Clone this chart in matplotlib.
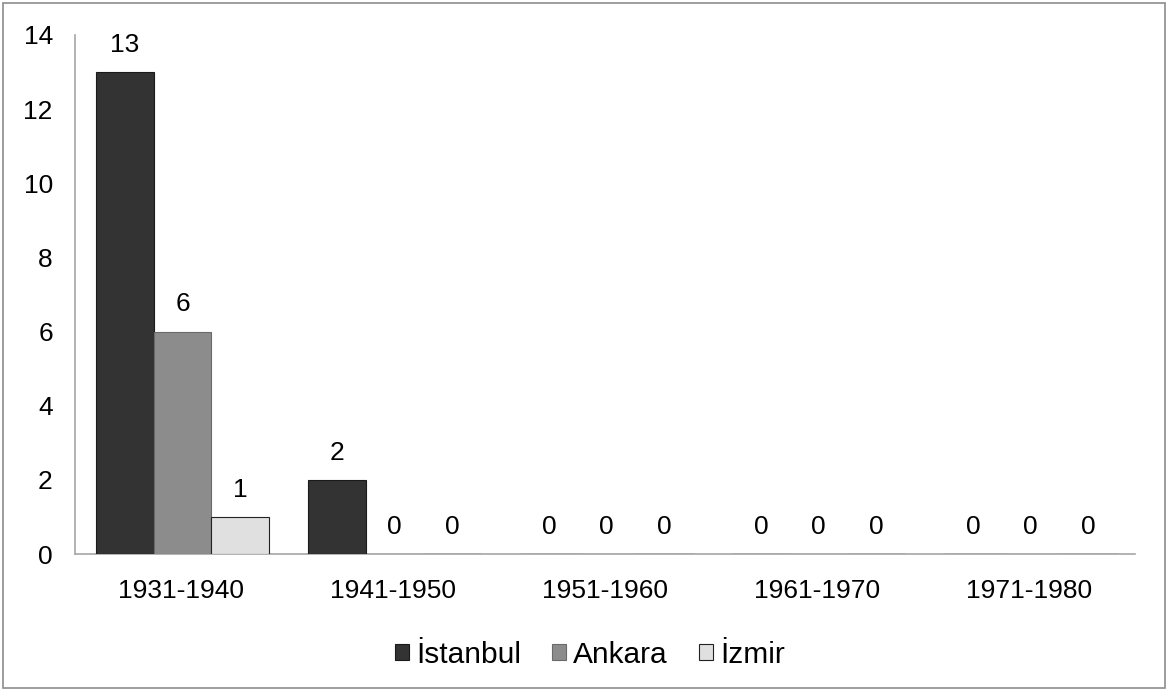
import matplotlib
matplotlib.use("Agg")
import matplotlib.pyplot as plt
import numpy as np
from matplotlib.patches import Rectangle

categories = ["1931-1940", "1941-1950", "1951-1960", "1961-1970", "1971-1980"]
series_names = ["İstanbul", "Ankara", "İzmir"]
istanbul = [13, 2, 0, 0, 0]
ankara = [6, 0, 0, 0, 0]
izmir = [1, 0, 0, 0, 0]
yticks = [0, 2, 4, 6, 8, 10, 12, 14]

plt.rcParams['font.family'] = ['Liberation Sans', 'DejaVu Sans']

W, H = 1172, 697
fig = plt.figure(figsize=(W / 100, H / 100), dpi=100)
ax = fig.add_axes([75 / W, 1 - 554 / H, (1135 - 75) / W, (554 - 35) / H])

colors = ["#333333", "#8c8c8c", "#e0e0e0"]
edges = ["#1a1a1a", "#6a6a6a", "#222222"]
x = np.arange(len(categories))
bw = 0.272
data = [istanbul, ankara, izmir]
for i, (vals, name) in enumerate(zip(data, series_names)):
    pos = x + 0.007 + (i - 1) * bw
    ax.bar(pos, vals, width=bw, color=colors[i], edgecolor=edges[i],
           linewidth=0.8, label=name, zorder=3)
    for xp, v in zip(pos, vals):
        ax.annotate(str(v), (xp, v), xytext=(0, 19.5), textcoords="offset points",
                    ha="center", va="center", fontsize=19, color="black")

ax.set_xlim(-0.5, len(categories) - 0.5)
ax.set_ylim(0, 14)
ax.set_yticks(yticks)
ax.set_xticks(x)
ax.set_xticklabels(categories)
ax.tick_params(axis="y", length=0, pad=16, labelsize=19)
ax.tick_params(axis="x", length=0, pad=18, labelsize=19)
for s in ["top", "right"]:
    ax.spines[s].set_visible(False)
ax.spines["left"].set_color("#a6a6a6")
ax.spines["bottom"].set_color("#a6a6a6")
ax.spines["left"].set_linewidth(1.2)
ax.spines["bottom"].set_linewidth(1.2)

leg = fig.legend(loc="center", bbox_to_anchor=(590 / W, 1 - 655 / H), ncol=3,
                 frameon=False, fontsize=21.5, handlelength=0.45, handleheight=0.45,
                 handletextpad=0.25, columnspacing=1.05)

fig.patches.append(Rectangle((3 / W, 1 - 688 / H), (1165 - 3) / W, (688 - 3) / H,
                             transform=fig.transFigure, fill=False,
                             edgecolor="#8c8c8c", linewidth=1.2))

fig.savefig("out.png", dpi=100)
